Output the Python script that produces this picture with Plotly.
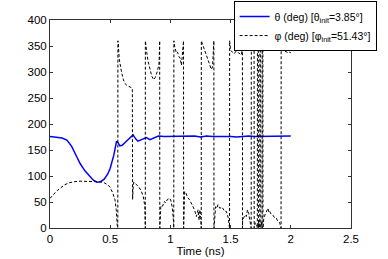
import plotly.graph_objects as go

# theta (deg) vs time (ns)
theta_t = [0, 0.05, 0.1, 0.14, 0.18, 0.22, 0.25, 0.29, 0.33, 0.36, 0.39, 0.42, 0.45, 0.48, 0.5,
           0.53, 0.553, 0.565, 0.58, 0.6, 0.63, 0.66, 0.69, 0.71, 0.73, 0.76, 0.8, 0.83, 0.86, 0.9,
           0.95, 1.0, 1.05, 1.1, 1.15, 1.2, 1.25, 1.3, 1.35, 1.4, 1.45, 1.5, 1.55, 1.6, 1.65, 1.7,
           1.75, 1.8, 1.85, 1.9, 1.95, 2.0]
theta_deg = [176, 175, 173, 169, 157, 138, 124, 110, 99, 92, 88, 89, 94, 104, 115,
             140, 167, 164, 158, 159, 166, 173, 179, 172, 167, 170, 174, 170, 173, 177,
             176, 176, 177, 176, 176, 177, 175, 177, 176, 176, 177, 176, 175, 176, 177, 176,
             176, 177, 176, 176, 176, 177]

# phi (deg) vs time (ns), wrapping between 0 and 360
phi_t = [0, 0.03, 0.06, 0.083, 0.12, 0.16, 0.2, 0.25, 0.3, 0.35, 0.41, 0.45, 0.48, 0.5, 0.52,
         0.54, 0.55, 0.558, 0.563, 0.564,
         0.567, 0.575, 0.585, 0.594, 0.61, 0.622, 0.64, 0.66, 0.675, 0.684, 0.686, 0.69, 0.695,
         0.70, 0.72, 0.74, 0.76, 0.775, 0.788, 0.79, 0.7915, 0.792,
         0.795, 0.805, 0.815, 0.83, 0.845, 0.862, 0.875, 0.89, 0.905, 0.91, 0.911, 0.912,
         0.915, 0.92, 0.926, 0.935, 0.95, 0.96, 0.975, 0.995, 1.005, 1.015, 1.025, 1.028, 1.029,
         1.035, 1.05, 1.06, 1.07, 1.08, 1.092, 1.1, 1.108, 1.109, 1.11,
         1.113, 1.118, 1.128, 1.14, 1.16, 1.18, 1.2, 1.216, 1.223, 1.23, 1.238, 1.245, 1.252,
         1.256, 1.257,
         1.265, 1.28, 1.3, 1.32, 1.34, 1.35, 1.358, 1.361, 1.362,
         1.368, 1.376, 1.385, 1.395, 1.41, 1.43, 1.45, 1.465, 1.48, 1.49, 1.491, 1.492,
         1.5, 1.515, 1.53, 1.545, 1.56, 1.575, 1.59, 1.597, 1.598, 1.599,
         1.6, 1.61, 1.62, 1.63, 1.64, 1.65, 1.66, 1.668, 1.671, 1.672,
         1.678, 1.685, 1.69, 1.695, 1.696,
         1.705, 1.715, 1.72, 1.722, 1.723, 1.727, 1.73, 1.731, 1.735, 1.74, 1.742, 1.743,
         1.748, 1.75, 1.751, 1.755, 1.76, 1.762, 1.763, 1.766, 1.768, 1.769,
         1.775, 1.785, 1.8, 1.81, 1.818, 1.825, 1.835, 1.85, 1.865, 1.88, 1.89, 1.9, 1.91,
         1.918, 1.919, 1.92,
         1.928, 1.935, 1.945, 1.96, 1.97, 1.98, 1.99, 2.0]
phi_deg = [57, 65, 72, 76, 83, 87, 89, 90, 90, 89, 89, 87, 83, 78, 68,
           54, 35, 6, 0, 360,
           355, 325, 310, 300, 285, 278, 274, 272, 270, 268, 55, 75, 88,
           88, 83, 78, 70, 60, 41, 3, 0, 360,
           352, 335, 320, 305, 292, 285, 290, 300, 315, 350, 360, 0,
           20, 40, 44, 42, 51, 48, 55, 57, 52, 40, 15, 0, 360,
           350, 336, 338, 330, 327, 313, 330, 349, 360, 0,
           40, 70, 68, 60, 54, 45, 35, 22, 30, 35, 15, 35, 20,
           0, 360,
           355, 345, 330, 318, 305, 310, 340, 360, 0,
           30, 41, 38, 45, 38, 40, 32, 32, 20, 5, 0, 360,
           342, 338, 335, 340, 338, 335, 333, 345, 360, 0,
           15, 20, 25, 22, 35, 28, 15, 5, 0, 360,
           345, 340, 350, 360, 0,
           10, 8, 5, 0, 360, 350, 360, 0, 15, 5, 0, 360,
           355, 360, 0, 12, 5, 0, 360, 352, 360, 0,
           17, 25, 32, 38, 30, 32, 27, 25, 20, 19, 14, 13, 8,
           3, 0, 360,
           345, 343, 341, 340, 338, 336, 338, 337]

x_ticks = [0, 0.5, 1, 1.5, 2, 2.5]
x_tick_labels = ["0", "0.5", "1", "1.5", "2", "2.5"]
y_ticks = [0, 50, 100, 150, 200, 250, 300, 350, 400]
y_tick_labels = ["0", "50", "100", "150", "200", "250", "300", "350", "400"]

theta_name = "θ (deg) [θ<sub>init</sub>=3.85°]"
phi_name = "φ (deg) [φ<sub>init</sub>=51.43°]"

font_family = "Liberation Sans, Arial, sans-serif"

fig = go.Figure()
fig.add_trace(go.Scatter(x=theta_t, y=theta_deg, mode="lines", name=theta_name,
                         line=dict(color="#0000ff", width=1.5)))
fig.add_trace(go.Scatter(x=phi_t, y=phi_deg, mode="lines", name=phi_name,
                         line=dict(color="#000000", width=1, dash="3px,2px")))

axis_common = dict(
    showline=True, linecolor="#333333", linewidth=1, mirror="ticks",
    ticks="inside", ticklen=3, tickcolor="#333333",
    showgrid=False, zeroline=False,
    tickfont=dict(family=font_family, size=11.5, color="#000000"),
)

fig.update_layout(
    width=388, height=259,
    margin=dict(l=50, r=36.5, t=20, b=31, autoexpand=False),
    paper_bgcolor="white", plot_bgcolor="white",
    font=dict(family=font_family, size=11, color="#000000"),
    xaxis=dict(range=[0, 2.5], tickvals=x_ticks, ticktext=x_tick_labels,
               title=dict(text="Time (ns)", standoff=2,
                          font=dict(family=font_family, size=11.5)),
               automargin=False, **axis_common),
    yaxis=dict(range=[0, 400], tickvals=y_ticks, ticktext=y_tick_labels,
               automargin=False, **axis_common),
    legend=dict(x=0.61, y=1.091, xanchor="left", yanchor="top",
                bgcolor="white", bordercolor="#000000", borderwidth=1,
                font=dict(family=font_family, size=10.5),
                itemwidth=30, tracegroupgap=0),
    showlegend=True,
)

fig.write_html("out.html", config={"displayModeBar": False},
               post_script="document.body.style.margin='0';document.body.style.overflow='hidden';")
